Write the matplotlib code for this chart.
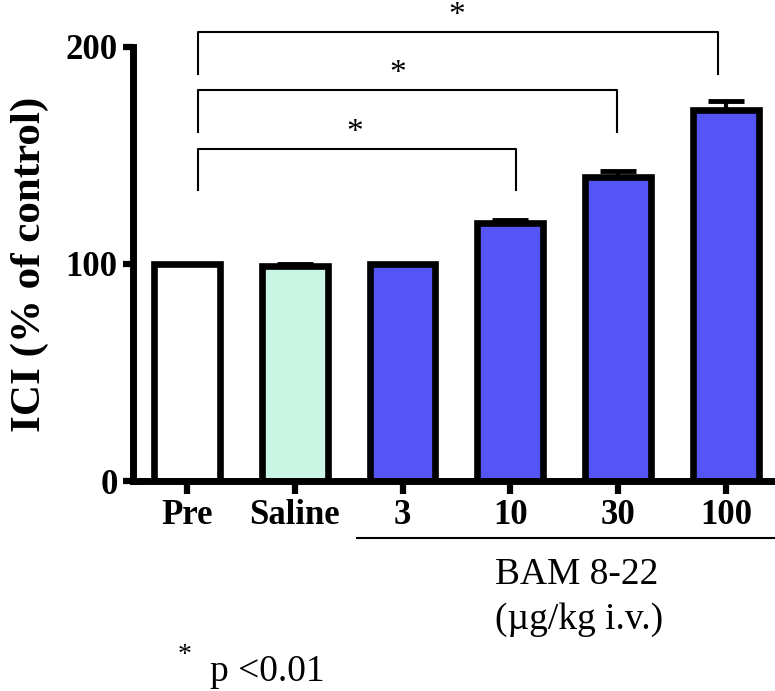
import matplotlib.pyplot as plt

plt.rcParams['font.family'] = ['Liberation Serif', 'DejaVu Serif']

# Data
groups = ["Pre", "Saline", "3", "10", "30", "100"]
ici = [100, 99, 100, 119, 140, 171]
ici_err = [0, 1, 0, 1.5, 3, 4]
colors = ["white", "#C8F5E4", "#5555F5", "#5555F5", "#5555F5", "#5555F5"]

# Significance brackets: (left x, right x, bar height, leg bottom, star x)
brackets = [
    (0.10, 3.05, 153, 134, 1.56),
    (0.10, 3.99, 180, 161, 1.96),
    (0.10, 4.93, 207, 187.5, 2.50),
]

fig = plt.figure(figsize=(7.75, 6.91), dpi=100)
ax = fig.add_axes([0.1716, 0.3039, 0.8284, 0.6281])

x = list(range(len(groups)))
ax.bar(x, ici, width=0.61, color=colors, edgecolor="black", linewidth=4.8, zorder=2)
ax.errorbar(x, ici, yerr=[[0] * len(ici), ici_err], fmt="none", ecolor="black",
            elinewidth=3, capsize=13, capthick=3.5, zorder=3)

# Brackets
for x0, x1, yb, yl, xs in brackets:
    ax.plot([x0, x0, x1, x1], [yl, yb, yb, yl], color="black", lw=1.5,
            clip_on=False, zorder=1)
    ax.text(xs, yb + 0.5, "*", ha="center", va="bottom", fontsize=24, clip_on=False)

ax.set_xlim(-0.5, 5.455)
ax.set_ylim(0, 200)
ax.set_yticks([0, 100, 200])
ax.set_xticks(x)
ax.set_xticklabels(groups)
for lab in ax.get_xticklabels() + ax.get_yticklabels():
    lab.set_fontsize(25)
    lab.set_fontweight("bold")

ax.spines["top"].set_visible(False)
ax.spines["right"].set_visible(False)
ax.spines["left"].set_linewidth(5)
ax.spines["bottom"].set_linewidth(5)
ax.tick_params(axis="y", length=7, width=4.5, pad=4)
ax.tick_params(axis="x", length=9, width=4.5, pad=4)

ax.set_ylabel("ICI (% of control)", fontsize=31, fontweight="bold", labelpad=12)

# BAM group line and labels
fig.add_artist(plt.Line2D([357 / 775, 1.0], [1 - 538 / 691, 1 - 538 / 691],
                          color="black", lw=1.5))
fig.text(577 / 775, 1 - 575 / 691, "BAM 8-22", ha="center", va="center", fontsize=27)
fig.text(579 / 775, 1 - 620 / 691, "(\u00b5g/kg i.v.)", ha="center", va="center", fontsize=27)
fig.text(185 / 775, 1 - 655 / 691, "*", ha="center", va="center", fontsize=20)
fig.text(210 / 775, 1 - 672 / 691, "p <0.01", ha="left", va="center", fontsize=27)

fig.savefig("out.png", dpi=100)
